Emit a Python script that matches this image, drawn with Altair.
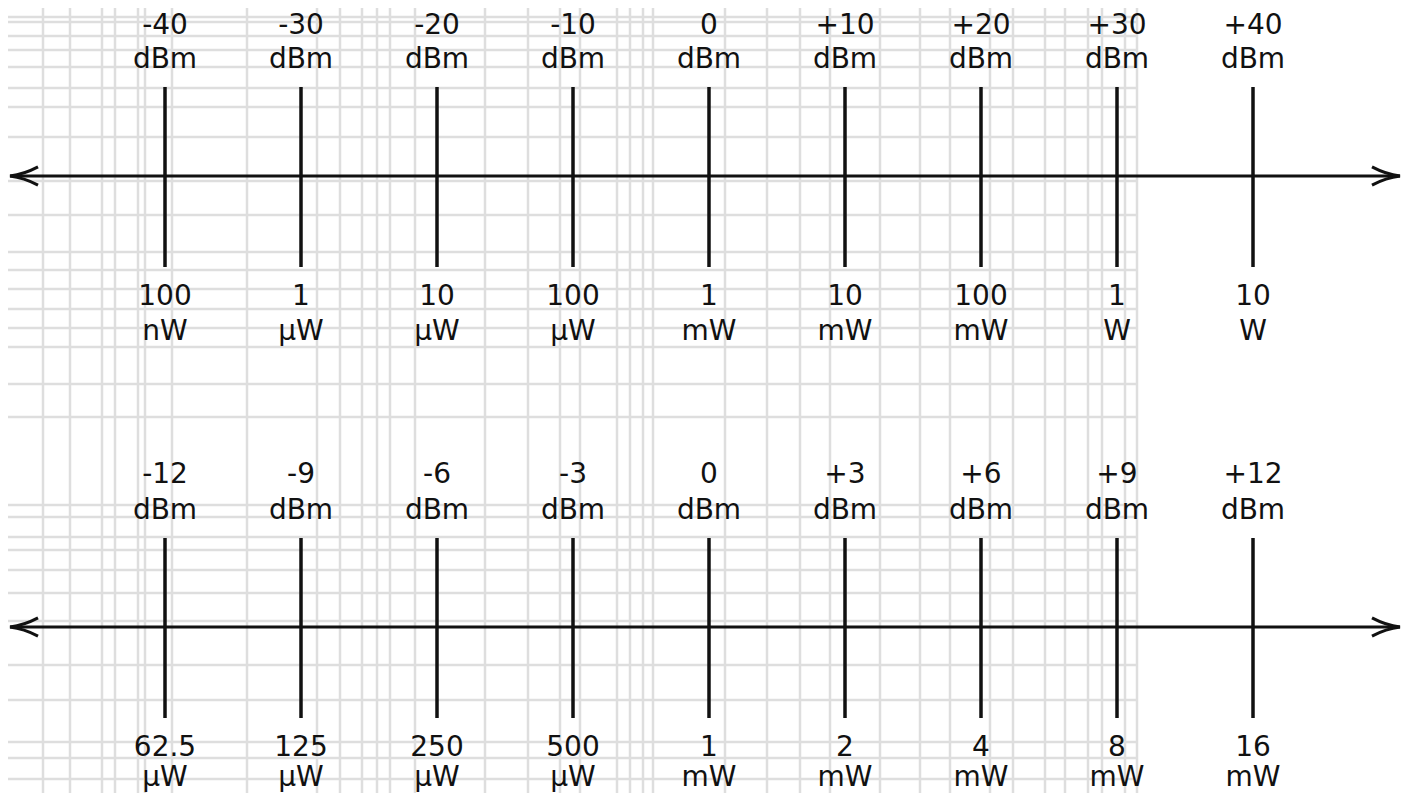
import altair as alt
import pandas as pd

# ---- chart content -------------------------------------------------------
dbm_top = ["-40", "-30", "-20", "-10", "0", "+10", "+20", "+30", "+40"]
val_top = ["100", "1", "10", "100", "1", "10", "100", "1", "10"]
unit_top = ["nW", "μW", "μW", "μW", "mW", "mW", "mW", "W", "W"]

dbm_bot = ["-12", "-9", "-6", "-3", "0", "+3", "+6", "+9", "+12"]
val_bot = ["62.5", "125", "250", "500", "1", "2", "4", "8", "16"]
unit_bot = ["μW", "μW", "μW", "μW", "mW", "mW", "mW", "mW", "mW"]

dbm_word = "dBm"

# background graph-paper lines (page pixels)
grid_x = [43, 70, 102, 115, 138, 145, 172, 247, 317, 340, 362, 377, 390,
          415, 485, 528, 560, 580, 617, 630, 643, 653, 725, 767, 800, 830,
          880, 920, 950, 990, 1013, 1045, 1065, 1088, 1102, 1125, 1137]
grid_y = [17, 22, 36, 50, 67, 88, 107, 137, 181, 215, 252, 270, 289, 309,
          328, 347, 384, 417, 505, 517, 537, 550, 570, 593, 621, 665, 700,
          742, 758, 779]

# ---- layout ---------------------------------------------------------------
W, H = 1394, 785
PX0, STEP = 165, 136          # page x of first tick, tick spacing
def to_i(px):
    return (px - PX0) / STEP

x_dom = [to_i(8), to_i(8 + W)]
tip_l, tip_r = to_i(10), to_i(8 + W - 2)
PANEL = 451
Y_NUM, Y_DBM, Y_TT, Y_AX, Y_TB, Y_VAL, Y_UNIT = 24, 60, 79, 168, 259, 297, 332
GRID_RIGHT = 1138 - 8

INK = "#111111"
GRID = "#dedede"
FONT = "DejaVu Sans"
FS = 28
LW = 3.5
# keep text boxes inside the drawing
Y_MIN = round(FS * 0.93)
Y_MAX = H - round(FS * 0.24)

rows = []
for p, (d, v, u) in enumerate([(dbm_top, val_top, unit_top),
                                (dbm_bot, val_bot, unit_bot)]):
    for i in range(len(d)):
        rows.append(dict(i=i, panel=p, dbm=d[i], word=dbm_word, val=v[i], unit=u[i]))
df = pd.DataFrame(rows)

axes_df = pd.DataFrame(dict(panel=[0, 1], x1=[tip_l, tip_l], x2=[tip_r, tip_r]))
gx_df = pd.DataFrame(dict(gx=[to_i(v) for v in grid_x]))
gy_df = pd.DataFrame(dict(gy=[v - 8 for v in grid_y]))

xs = alt.Scale(domain=x_dom, nice=False, zero=False)
ys = alt.Scale(domain=[0, H], nice=False, zero=False, reverse=True)

grid_v = alt.Chart(gx_df).mark_rule(color=GRID, strokeWidth=2.5).encode(
    x=alt.X("gx:Q", scale=xs, axis=None),
    y=alt.value(0), y2=alt.value(H))
grid_h = alt.Chart(gy_df).mark_rule(color=GRID, strokeWidth=2.5).encode(
    y=alt.Y("gy:Q", scale=ys, axis=None),
    x=alt.value(0), x2=alt.value(GRID_RIGHT))

base = alt.Chart(df)

ticks = base.transform_calculate(
    yt=f"datum.panel*{PANEL}+{Y_TT}", yb=f"datum.panel*{PANEL}+{Y_TB}"
).mark_rule(color=INK, strokeWidth=LW).encode(
    x=alt.X("i:Q", scale=xs, axis=None),
    y=alt.Y("yt:Q", scale=ys, axis=None), y2="yb:Q")

axis_line = alt.Chart(axes_df).transform_calculate(
    ya=f"datum.panel*{PANEL}+{Y_AX}"
).mark_rule(color=INK, strokeWidth=3).encode(
    x=alt.X("x1:Q", scale=xs, axis=None), x2="x2:Q",
    y=alt.Y("ya:Q", scale=ys, axis=None))

arrow_r = alt.Chart(axes_df).transform_calculate(
    ya=f"datum.panel*{PANEL}+{Y_AX}"
).mark_point(shape="M-2,-0.65Q-1,-0.12 0,0Q-1,0.12 -2,0.65", size=784,
             filled=False, stroke=INK, strokeWidth=3, opacity=1,
             strokeMiterLimit=3).encode(
    x=alt.X("x2:Q", scale=xs, axis=None),
    y=alt.Y("ya:Q", scale=ys, axis=None))

arrow_l = alt.Chart(axes_df).transform_calculate(
    ya=f"datum.panel*{PANEL}+{Y_AX}"
).mark_point(shape="M2,-0.65Q1,-0.12 0,0Q1,0.12 2,0.65", size=784,
             filled=False, stroke=INK, strokeWidth=3, opacity=1,
             strokeMiterLimit=3).encode(
    x=alt.X("x1:Q", scale=xs, axis=None),
    y=alt.Y("ya:Q", scale=ys, axis=None))

def text_layer(field, yoff):
    return base.transform_calculate(
        yy=f"clamp(datum.panel*{PANEL}+{yoff}, {Y_MIN}, {Y_MAX})"
    ).mark_text(font=FONT, fontSize=FS, baseline="alphabetic", align="center",
                color=INK).encode(
        x=alt.X("i:Q", scale=xs, axis=None),
        y=alt.Y("yy:Q", scale=ys, axis=None),
        text=f"{field}:N")

chart = alt.layer(
    grid_v, grid_h, axis_line, ticks, arrow_l, arrow_r,
    text_layer("dbm", Y_NUM), text_layer("word", Y_DBM),
    text_layer("val", Y_VAL), text_layer("unit", Y_UNIT),
).properties(
    width=W, height=H, padding=0, background="white",
    autosize=alt.AutoSizeParams(type="none"),
).configure_view(stroke=None)

chart.save("out.html", embed_options={"renderer": "svg", "actions": False})
